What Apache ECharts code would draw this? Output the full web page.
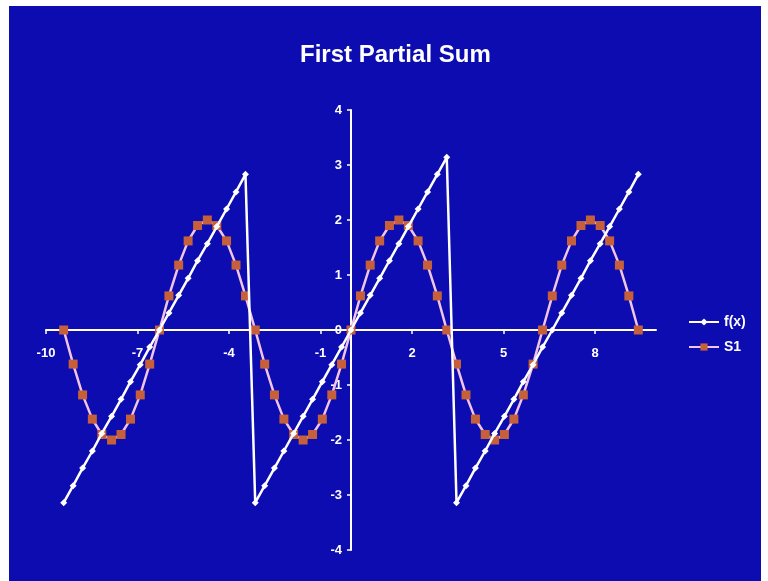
<!DOCTYPE html>
<html>
<head>
<meta charset="utf-8">
<script src="https://cdn.jsdelivr.net/npm/echarts@6/dist/echarts.min.js"></script>
<style>
  html, body { margin: 0; padding: 0; background: #ffffff; }
  #chart { position: absolute; left: 9px; top: 6px; width: 752px; height: 575px; background: #0c0cb0; }
</style>
</head>
<body>
<div id="chart"></div>
<script>
// Sample positions: -3π to 3π in steps of π/10
const xValues = [-9.42,-9.11,-8.80,-8.48,-8.17,-7.85,-7.54,-7.23,-6.91,-6.60,
  -6.28,-5.97,-5.65,-5.34,-5.03,-4.71,-4.40,-4.08,-3.77,-3.46,
  -3.14,-2.83,-2.51,-2.20,-1.88,-1.57,-1.26,-0.94,-0.63,-0.31,
  0,0.31,0.63,0.94,1.26,1.57,1.88,2.20,2.51,2.83,
  3.14,3.46,3.77,4.08,4.40,4.71,5.03,5.34,5.65,5.97,
  6.28,6.60,6.91,7.23,7.54,7.85,8.17,8.48,8.80,9.11,9.42];

// Sawtooth function values
const fValues = [-3.14,-2.83,-2.51,-2.20,-1.88,-1.57,-1.26,-0.94,-0.63,-0.31,
  0,0.31,0.63,0.94,1.26,1.57,1.88,2.20,2.51,2.83,
  -3.14,-2.83,-2.51,-2.20,-1.88,-1.57,-1.26,-0.94,-0.63,-0.31,
  0,0.31,0.63,0.94,1.26,1.57,1.88,2.20,2.51,2.83,3.14,
  -3.14,-2.83,-2.51,-2.20,-1.88,-1.57,-1.26,-0.94,-0.63,-0.31,
  0,0.31,0.63,0.94,1.26,1.57,1.88,2.20,2.51,2.83];

// First partial sum of the Fourier series
const s1Values = [0,-0.62,-1.18,-1.62,-1.90,-2.00,-1.90,-1.62,-1.18,-0.62,
  0,0.62,1.18,1.62,1.90,2.00,1.90,1.62,1.18,0.62,
  0,-0.62,-1.18,-1.62,-1.90,-2.00,-1.90,-1.62,-1.18,-0.62,
  0,0.62,1.18,1.62,1.90,2.00,1.90,1.62,1.18,0.62,
  0,-0.62,-1.18,-1.62,-1.90,-2.00,-1.90,-1.62,-1.18,-0.62,
  0,0.62,1.18,1.62,1.90,2.00,1.90,1.62,1.18,0.62,0];

const xTickValues = [-10, -7, -4, -1, 2, 5, 8];

const pair = (ys) => xValues.map((x, i) => [x, ys[i]]);
const font = 'Liberation Sans, Arial, sans-serif';

// Plot area; both axes are shifted inward so they cross at the origin
const grid = { left: 37, right: 105, top: 104, bottom: 31 };
const plotW = 752 - grid.left - grid.right;
const plotH = 575 - grid.top - grid.bottom;

const chart = echarts.init(document.getElementById('chart'));
chart.setOption({
  backgroundColor: '#0c0cb0',
  animation: false,
  title: {
    text: 'First Partial Sum',
    left: 286,
    top: 32,
    textStyle: { color: '#ffffff', fontSize: 24, fontWeight: 'bold', fontFamily: font }
  },
  legend: {
    orient: 'vertical',
    left: 674,
    top: 304,
    itemWidth: 30,
    itemHeight: 9,
    itemGap: 11,
    textStyle: { color: '#ffffff', fontSize: 14, fontWeight: 'bold', fontFamily: font },
    data: ['f(x)', 'S1']
  },
  grid: Object.assign({ containLabel: false }, grid),
  xAxis: {
    type: 'value',
    min: -10,
    max: 10,
    position: 'bottom',
    offset: -plotH / 2,
    splitLine: { show: false },
    axisLine: { onZero: false, lineStyle: { color: '#ffffff', width: 2 } },
    axisTick: { show: true, length: 4, customValues: xTickValues, lineStyle: { color: '#ffffff', width: 1.5 } },
    axisLabel: {
      customValues: xTickValues,
      margin: 17,
      color: '#ffffff', fontSize: 13, fontWeight: 'bold', fontFamily: font
    }
  },
  yAxis: {
    type: 'value',
    min: -4,
    max: 4,
    interval: 1,
    position: 'left',
    offset: -plotW / 2,
    splitLine: { show: false },
    axisLine: { onZero: false, lineStyle: { color: '#ffffff', width: 2 } },
    axisTick: { show: true, length: 4, lineStyle: { color: '#ffffff', width: 1.5 } },
    axisLabel: { margin: 9, color: '#ffffff', fontSize: 13, fontWeight: 'bold', fontFamily: font }
  },
  series: [
    {
      name: 'f(x)',
      type: 'line',
      z: 3,
      data: pair(fValues),
      symbol: 'diamond',
      symbolSize: 7,
      showAllSymbol: true,
      lineStyle: { color: '#ffffff', width: 2.5 },
      itemStyle: { color: '#ffffff' }
    },
    {
      name: 'S1',
      type: 'line',
      z: 2,
      data: pair(s1Values),
      symbol: 'rect',
      symbolSize: 9,
      showAllSymbol: true,
      lineStyle: { color: '#f2c4e4', width: 2.5 },
      itemStyle: { color: '#c6603a' }
    }
  ]
});
</script>
</body>
</html>
